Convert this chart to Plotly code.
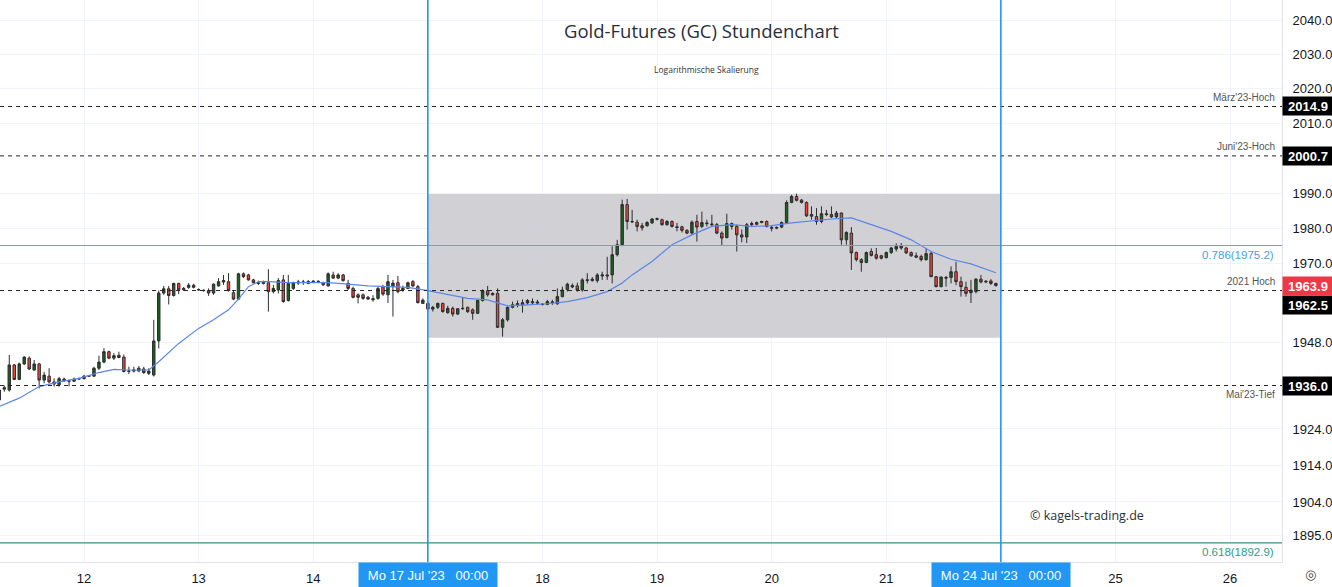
import math
import plotly.graph_objects as go

# ---------------- data (hourly bars, index 0 = Wed 12 Jul 2023 00:00, 23 bars per session) ----------------
first_bar = -17
opens = [1932.0,1935.0,1934.75,1941.7,1937.7,1942.0,1943.6,1940.3,1942.0,1937.5,1938.6,1937.0,1936.2,1937.8,1937.3,1937.2,1937.8,
 1937.9,1938.6,1938.6,1940.8,1942.5,1945.4,1943.6,1944.4,1943.9,1939.9,1940.0,1940.0,1940.6,1939.4,1938.9,1948.4,1961.8,1963.0,1961.1,1964.5,1962.7,1963.4,1964.0,1962.8,1962.6,1962.5,1961.8,
 1963.8,1964.9,1965.0,1961.9,1960.1,1967.2,1966.9,1965.5,1964.7,1965.0,1964.7,1962.2,1962.65,1965.5,1959.7,1963.1,1964.6,1964.8,1964.5,
 1964.9,1965.1,1964.7,1963.8,1966.9,1966.0,1966.9,1964.5,1963.1,1961.3,1961.3,1960.6,1959.9,1960.3,1963.6,1961.3,1963.6,1964.7,1962.65,1963.1,1965.0,1963.6,1958.9,
 1958.9,1957.3,1957.8,1958.9,1956.3,1957.5,1955.9,1957.4,1957.8,1957.1,1956.1,1959.7,1962.45,1961.3,1961.7,1952.2,1954.3,1957.8,1958.5,1958.5,1959.0,1959.4,1959.3,
 1958.7,1958.6,1959.1,1958.8,1960.8,1962.8,1963.5,1963.8,1962.65,1965.3,1965.3,1965.3,1966.6,1966.9,1966.9,1972.6,1975.4,1986.8,1982.0,1981.8,1980.8,1980.8,1981.6,
 1982.6,1982.5,1981.1,1982.0,1980.5,1980.5,1979.5,1978.7,1982.0,1980.6,1981.6,1981.3,1981.1,1978.7,1977.4,1981.4,1980.6,1978.2,1977.6,1981.1,1981.2,1981.7,1982.0,
 1980.3,1980.1,1980.4,1981.7,1987.4,1989.1,1988.1,1987.4,1984.0,1983.4,1982.0,1984.2,1984.0,1983.3,1984.4,1976.8,1978.7,1973.2,1971.2,1970.4,1973.5,1972.6,1972.3,
 1971.8,1973.2,1974.2,1975.1,1974.5,1973.2,1972.3,1972.1,1971.2,1973.0,1966.4,1963.6,1966.2,1966.2,1967.8,1965.0,1963.4,1961.9,1962.2,1965.7,1964.9,1965.2,1964.5]
highs = [1935.3,1936.0,1944.5,1942.0,1942.4,1944.1,1944.1,1943.1,1942.3,1939.8,1940.8,1938.0,1938.4,1938.2,1937.7,1938.2,1938.2,
 1938.9,1938.9,1941.2,1944.3,1946.4,1945.7,1945.0,1945.4,1944.6,1941.2,1941.2,1941.4,1941.2,1940.8,1954.3,1962.5,1963.8,1963.8,1964.7,1964.7,1963.5,1964.6,1964.4,1963.1,1962.8,1963.1,1964.5,
 1966.0,1966.9,1967.4,1962.65,1967.5,1967.6,1967.2,1965.8,1965.3,1965.3,1968.5,1964.1,1966.0,1966.9,1966.9,1965.0,1965.5,1965.5,1965.5,
 1965.4,1965.4,1965.0,1967.6,1967.8,1967.4,1967.2,1965.5,1963.6,1961.7,1961.7,1961.0,1961.2,1963.6,1964.1,1966.9,1965.5,1966.6,1963.9,1965.0,1965.5,1964.1,1960.3,
 1959.2,1958.2,1959.1,1959.1,1958.2,1958.0,1957.5,1960.6,1958.0,1957.5,1960.0,1962.85,1963.8,1962.0,1963.1,1954.8,1958.0,1959.4,1959.7,1960.0,1960.1,1960.3,1959.9,
 1958.9,1959.9,1959.9,1963.1,1963.6,1964.7,1964.5,1964.7,1966.0,1967.4,1966.3,1967.4,1967.8,1972.0,1975.0,1976.8,1988.2,1988.4,1985.3,1982.5,1981.6,1982.1,1983.0,
 1983.1,1982.8,1982.4,1982.3,1981.6,1980.8,1979.8,1982.3,1983.9,1984.8,1982.5,1983.9,1981.6,1979.2,1984.2,1981.7,1981.1,1979.7,1981.6,1982.0,1982.0,1982.2,1982.3,
 1980.8,1980.6,1982.0,1988.0,1989.6,1989.9,1988.4,1987.7,1986.3,1985.8,1986.3,1985.3,1986.3,1985.0,1984.6,1979.2,1980.4,1973.5,1971.6,1973.5,1974.4,1974.5,1972.6,
 1973.5,1974.8,1975.8,1975.9,1974.8,1973.5,1973.2,1972.6,1974.5,1973.5,1966.6,1966.4,1966.6,1969.3,1970.6,1966.4,1965.0,1965.5,1966.0,1966.9,1965.4,1965.7,1964.7]
lows = [1931.5,1934.3,1934.3,1937.5,1937.5,1941.7,1940.3,1940.1,1935.2,1936.6,1936.6,1935.7,1935.7,1937.0,1935.8,1937.0,1937.6,
 1937.7,1938.4,1938.4,1940.3,1942.2,1943.3,1943.1,1943.6,1939.6,1939.2,1939.6,1939.9,1939.2,1938.9,1938.5,1946.3,1961.3,1958.6,1960.8,1961.5,1962.4,1963.0,1963.1,1962.4,1962.2,1961.0,1961.3,
 1963.6,1964.1,1962.2,1959.8,1959.8,1966.0,1965.3,1964.5,1964.1,1964.2,1956.6,1961.7,1961.7,1959.1,1959.4,1962.65,1964.1,1964.1,1964.3,
 1964.6,1964.7,1963.8,1963.6,1965.7,1965.7,1965.0,1962.65,1960.3,1958.9,1959.9,1959.9,1959.4,1959.9,1961.0,1959.0,1955.2,1961.7,1962.2,1962.9,1963.5,1958.9,1958.9,
 1957.0,1956.6,1957.3,1956.3,1956.0,1955.2,1955.7,1957.1,1956.2,1954.3,1955.9,1959.4,1960.8,1961.1,1952.0,1949.6,1953.8,1957.5,1957.8,1956.3,1958.5,1958.5,1958.5,
 1958.3,1958.4,1958.5,1958.5,1960.6,1962.2,1963.2,1962.2,1962.2,1964.5,1965.0,1964.7,1965.5,1965.5,1964.5,1972.1,1975.0,1979.7,1981.6,1979.2,1979.4,1980.5,1981.3,
 1982.3,1980.8,1980.8,1980.3,1979.2,1978.9,1978.4,1978.2,1976.3,1980.1,1980.6,1980.6,1978.4,1975.1,1977.3,1979.7,1973.5,1976.1,1975.9,1980.4,1980.9,1981.5,1980.3,
 1979.2,1979.8,1980.1,1981.5,1987.2,1987.7,1987.1,1983.3,1982.5,1981.1,1981.5,1983.5,1983.0,1983.0,1975.4,1975.4,1968.3,1970.7,1967.8,1970.2,1972.1,1971.2,1971.3,
 1971.5,1972.8,1973.5,1974.0,1972.8,1972.0,1971.6,1970.7,1970.9,1966.3,1963.4,1963.4,1963.6,1964.5,1964.0,1960.8,1960.8,1959.0,1961.7,1964.5,1964.6,1964.1,1963.6]
closes = [1934.75,1935.4,1941.7,1937.7,1942.0,1943.9,1940.6,1942.0,1937.5,1938.9,1937.0,1936.4,1937.9,1937.3,1937.2,1937.8,1937.9,
 1938.6,1938.7,1940.8,1942.5,1945.4,1943.6,1944.3,1943.8,1939.9,1940.0,1940.3,1940.8,1939.6,1940.0,1948.4,1961.8,1963.0,1961.1,1964.5,1962.7,1963.1,1964.0,1963.4,1962.7,1962.5,1961.8,1964.3,
 1965.0,1965.3,1962.5,1960.1,1967.2,1966.4,1965.5,1964.7,1964.5,1964.5,1962.2,1963.1,1965.3,1959.4,1964.5,1964.7,1964.9,1964.9,1965.0,
 1965.1,1965.0,1964.1,1967.2,1966.0,1966.9,1965.3,1963.1,1960.6,1960.6,1960.3,1960.1,1960.2,1963.1,1961.5,1965.0,1964.6,1962.2,1963.1,1964.7,1963.8,1959.1,1959.8,
 1957.3,1957.8,1958.9,1956.6,1957.5,1955.9,1957.4,1957.5,1956.6,1956.1,1959.7,1962.45,1961.3,1961.7,1952.2,1954.3,1957.8,1958.5,1958.8,1959.1,1959.7,1959.1,1959.0,
 1958.6,1959.4,1959.3,1960.8,1962.65,1964.3,1963.9,1962.65,1965.5,1965.5,1965.7,1966.9,1966.9,1966.6,1972.6,1975.4,1986.8,1982.0,1981.9,1980.6,1980.2,1981.7,1982.7,
 1982.8,1981.1,1982.0,1980.6,1980.3,1979.5,1978.7,1981.8,1980.4,1981.7,1981.4,1981.1,1978.7,1977.3,1981.4,1980.6,1978.2,1977.6,1981.1,1981.4,1981.7,1982.0,1980.6,
 1980.1,1980.3,1981.7,1987.4,1989.1,1988.0,1987.4,1983.6,1983.5,1982.0,1984.2,1984.0,1983.3,1984.4,1976.8,1978.9,1973.1,1971.2,1970.4,1973.2,1972.4,1971.6,1971.6,
 1973.2,1974.5,1974.9,1974.5,1973.1,1972.3,1971.9,1971.2,1972.9,1966.4,1963.6,1966.3,1966.0,1967.8,1965.0,1963.6,1961.7,1962.6,1965.7,1964.9,1965.1,1964.5,1963.9]

# moving average (bar index, price)
ema_index = [-17,-13,-9,-5,-1,3,6,9,13,15,19,23,26,29,31,33,35,37,41,45,49,53,57,61,65,69,73,77,81,85,89,93,97,101,105,108,110,
             114,118,122,126,130,134,138,142,146,150,154,158,162,166,170,174,178,183]
ema_values = [1930.2,1932.5,1935.7,1937.0,1938.0,1939.6,1940.5,1940.3,1940.3,1942.6,1947.7,1951.9,1954.3,1957.1,1960.1,1963.6,1965.0,
              1965.0,1964.7,1964.7,1964.7,1964.3,1963.8,1963.6,1963.4,1962.5,1961.3,1960.3,1959.9,1958.2,1958.5,1958.8,1959.4,1960.5,
              1962.2,1964.6,1966.9,1970.7,1975.4,1978.2,1980.6,1981.1,1980.6,1980.8,1981.6,1982.2,1982.7,1983.0,1981.1,1979.2,1976.8,
              1973.5,1971.3,1970.0,1967.5]

day_labels = ["12", "13", "14", "17", "18", "19", "20", "21", "24", "25", "26"]
bars_per_day = 23

price_ticks = [2040, 2030, 2020, 2010, 1990, 1980, 1970, 1948, 1924, 1914, 1904, 1895]

# horizontal levels
level_names = ["März'23-Hoch", "Juni'23-Hoch", "2021 Hoch", "Mai'23-Tief"]
level_values = [2014.9, 2000.7, 1962.5, 1936.0]
fib_names = ["0.786", "0.618"]
fib_values = [1975.2, 1892.9]
last_price = 1963.9
zone_low, zone_high = 1949.3, 1989.8
week_start_labels = ["Mo 17 Jul '23\u00a0\u00a0\u00a000:00", "Mo 24 Jul '23\u00a0\u00a0\u00a000:00"]
week_start_days = [3, 8]  # index into day_labels

# ---------------- figure ----------------
x = list(range(first_bar, first_bar + len(opens)))
FONT = "Liberation Sans, Arial, sans-serif"

fig = go.Figure()
w0 = week_start_days[0] * bars_per_day
w1 = week_start_days[1] * bars_per_day
# consolidation zone: a single bar (bar layer sits above the grid but below the candles)
fig.add_trace(go.Bar(x=[(w0 + w1) / 2], y=[zone_high - zone_low], base=[zone_low], width=[w1 - w0],
                     marker=dict(color="rgba(203,203,208,0.9)", line=dict(width=0)),
                     hoverinfo="skip", showlegend=False))
fig.add_trace(go.Candlestick(
    x=x, open=opens, high=highs, low=lows, close=closes,
    increasing=dict(fillcolor="#1b5e20", line=dict(color="#2d2d2d", width=1)),
    decreasing=dict(fillcolor="#f44336", line=dict(color="#2d2d2d", width=1)),
    whiskerwidth=0, hoverinfo="skip", showlegend=False,
))
fig.add_trace(go.Scatter(x=ema_index, y=ema_values, mode="lines",
                         line=dict(color="#5b86ea", width=1.2), hoverinfo="skip", showlegend=False))

shapes = []
for v in level_values:
    shapes.append(dict(type="line", xref="paper", yref="y", x0=0, x1=1, y0=v, y1=v,
                       line=dict(color="#222222", width=1, dash="4px,4px"), layer="above"))
shapes.append(dict(type="line", xref="paper", yref="y", x0=0, x1=1, y0=fib_values[0], y1=fib_values[0],
                   line=dict(color="#5fa8e0", width=1.2), layer="above"))
shapes.append(dict(type="line", xref="paper", yref="y", x0=0, x1=1, y0=fib_values[1], y1=fib_values[1],
                   line=dict(color="#3a8f82", width=1.2), layer="above"))
for d in week_start_days:
    shapes.append(dict(type="line", xref="x", yref="paper", x0=d * bars_per_day, x1=d * bars_per_day, y0=0, y1=1,
                       line=dict(color="#2196f3", width=1.6), layer="above"))

ann = []
# level labels
shifts = [9, 9, 9, -9]
for name, v, s in zip(level_names, level_values, shifts):
    ann.append(dict(xref="paper", yref="y", x=1, y=math.log10(v), xanchor="right", yanchor="middle",
                    xshift=-5, yshift=s,
                    text=name, showarrow=False, font=dict(family=FONT, size=10, color="#555555")))
ann.append(dict(xref="paper", yref="y", x=1, y=math.log10(fib_values[0]), xanchor="right", yanchor="middle",
                xshift=-6, yshift=-10,
                text=f"{fib_names[0]}({fib_values[0]:.1f})", showarrow=False,
                font=dict(family=FONT, size=11.5, color="#4aa0dd")))
ann.append(dict(xref="paper", yref="y", x=1, y=math.log10(fib_values[1]), xanchor="right", yanchor="middle",
                xshift=-6, yshift=-9,
                text=f"{fib_names[1]}({fib_values[1]:.1f})", showarrow=False,
                font=dict(family=FONT, size=11.5, color="#2a9d8a")))
# price boxes on the scale
box_shift = [0, 0, -14, 0]
for v, s in zip(level_values, box_shift):
    ann.append(dict(xref="paper", yref="y", x=1, y=math.log10(v), xanchor="left", yanchor="middle", yshift=s,
                    text=f"<b>{v:.1f}</b>", showarrow=False, bgcolor="#000000", width=50, height=18,
                    borderpad=0, font=dict(family=FONT, size=13, color="white")))
ann.append(dict(xref="paper", yref="y", x=1, y=math.log10(last_price), xanchor="left", yanchor="middle",
                text=f"<b>{last_price:.1f}</b>", showarrow=False, bgcolor="#f23645", width=50, height=18,
                borderpad=0, font=dict(family=FONT, size=13, color="white")))
# week start time labels
for d, lab in zip(week_start_days, week_start_labels):
    ann.append(dict(xref="x", yref="paper", x=d * bars_per_day, y=0, yanchor="top", xanchor="center",
                    text=lab, showarrow=False, bgcolor="#2196f3", width=138, height=25, borderpad=0,
                    font=dict(family=FONT, size=13, color="white")))
# titles
ann.append(dict(xref="paper", yref="paper", x=701 / 1282, y=1 - 31 / 562, xanchor="center", yanchor="middle",
                text="Gold-Futures (GC) Stundenchart",
                showarrow=False, font=dict(family="Open Sans, sans-serif", size=18.5, color="#2a2e39")))
ann.append(dict(xref="paper", yref="paper", x=706 / 1282, y=1 - 69 / 562, xanchor="center", yanchor="middle",
                text="Logarithmische Skalierung",
                showarrow=False, font=dict(family="Open Sans, sans-serif", size=8.5, color="#333333")))
ann.append(dict(xref="paper", yref="paper", x=1028 / 1282, y=1 - 515 / 562, xanchor="left", yanchor="middle",
                text="© kagels-trading.de", showarrow=False,
                font=dict(family="Open Sans, sans-serif", size=12.5, color="#2a2e39")))
ann.append(dict(xref="paper", yref="paper", x=1310 / 1282, y=-12 / 562, xanchor="center", yanchor="middle",
                text="◎", showarrow=False,
                font=dict(family="DejaVu Sans", size=13, color="#444444")))

tick_text = [("" if k in week_start_days else lab) for k, lab in enumerate(day_labels)]

fig.update_layout(
    width=1332, height=587,
    margin=dict(l=0, r=50, t=0, b=25),
    paper_bgcolor="white", plot_bgcolor="white",
    shapes=shapes, annotations=ann,
    showlegend=False, hovermode=False, barmode="overlay",
    xaxis=dict(
        range=[-16.86, 240.42], rangeslider=dict(visible=False),
        tickmode="array", tickvals=[k * bars_per_day for k in range(len(day_labels))], ticktext=tick_text,
        showgrid=True, gridcolor="#f0f3fa", gridwidth=1, zeroline=False,
        showline=True, linecolor="#e0e3eb", ticks="", ticklabelstandoff=4,
        tickfont=dict(family=FONT, size=13, color="#131722"),
    ),
    yaxis=dict(
        type="log", side="right",
        range=[math.log10(1887.7), math.log10(2045.85)],
        tickmode="array", tickvals=price_ticks, ticktext=[f"{t:.1f}" for t in price_ticks],
        showgrid=True, gridcolor="#f0f3fa", gridwidth=1, zeroline=False,
        showline=True, linecolor="#e0e3eb", ticks="", ticklabelstandoff=7,
        tickfont=dict(family=FONT, size=13, color="#131722"),
    ),
)

fig.write_html("out.html")
